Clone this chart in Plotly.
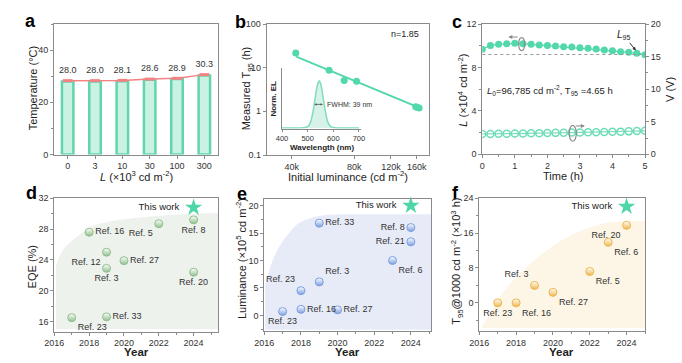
import plotly.graph_objects as go

W, H = 682, 363
FONT = "Liberation Sans, Arial, sans-serif"

# ---------------- data ----------------
# a
a_cats = ["0", "3", "10", "30", "100", "300"]
a_temp = [28.0, 28.0, 28.1, 28.6, 28.9, 30.3]
# b
b_lum = [41800, 60500, 71500, 82000, 158000, 161000, 164000]
b_t95 = [21.7, 8.7, 5.1, 4.9, 1.28, 1.23, 1.2]
b_fit_lum = [42000, 164000]
b_fit_t95 = [17.9, 1.22]
# b inset spectrum
el_wl = [400, 450, 480, 500, 510, 520, 530, 535, 540, 545, 550, 555, 560, 570, 580, 590, 600, 620, 650, 700]
el_int = [0, 0, 0.005, 0.03, 0.11, 0.32, 0.66, 0.83, 0.95, 1.0, 0.95, 0.83, 0.66, 0.32, 0.11, 0.03, 0.01, 0, 0, 0]
# c
c_time = [0, 0.25, 0.5, 0.75, 1, 1.25, 1.5, 1.75, 2, 2.25, 2.5, 2.75, 3, 3.25, 3.5, 3.75, 4, 4.25, 4.5, 4.75, 5]
c_lum = [9.68, 10.03, 10.13, 10.19, 10.22, 10.19, 10.13, 10.06, 10.03, 9.97, 9.91, 9.88, 9.82, 9.76,
         9.70, 9.60, 9.54, 9.45, 9.39, 9.30, 9.17]
c_volt = [3.12, 3.13, 3.15, 3.17, 3.19, 3.21, 3.23, 3.25, 3.27, 3.29, 3.31, 3.33, 3.35, 3.37, 3.39,
          3.42, 3.45, 3.48, 3.52, 3.56, 3.60]
c_l95 = 9.19
# d
d_year = [2017, 2018, 2019, 2019, 2019, 2020, 2022, 2024, 2024]
d_eqe = [16.5, 27.6, 25.0, 22.9, 16.6, 23.9, 28.7, 29.2, 22.4]
d_ref = ["Ref. 23", "Ref. 16", "Ref. 12", "Ref. 3", "Ref. 33", "Ref. 27", "Ref. 5", "Ref. 8", "Ref. 20"]
d_pos = ["bottom right", "middle right", "bottom left", "bottom center", "middle right", "middle right",
         "bottom left", "bottom center", "bottom center"]
d_this = (2024, 30.8)
d_shade_x = [2016.1, 2016.5, 2017.3, 2018.2, 2019.2, 2020.5, 2022.4, 2025.4]
d_shade_y = [23.3, 25.3, 27.0, 28.4, 29.0, 29.4, 29.8, 30.1]
# e
e_year = [2017, 2018, 2018, 2019, 2019, 2020, 2023, 2024, 2024]
e_lum = [0.7, 4.5, 1.1, 6.1, 16.8, 1.0, 10.0, 13.4, 16.0]
e_ref = ["Ref. 23", "Ref. 23", "Ref. 16", "Ref. 3", "Ref. 33", "Ref. 27", "Ref. 6", "Ref. 21", "Ref. 8"]
e_pos = ["bottom center", "top left", "middle right", "top right", "middle right", "middle right",
         "bottom right", "middle left", "middle left"]
e_this = (2024, 20.0)
e_shade_x = [2016.05, 2016.4, 2016.8, 2017.3, 2017.8, 2018.5, 2019.2, 2020.5, 2025.1]
e_shade_y = [5.5, 9.5, 12.4, 14.8, 16.6, 17.7, 18.2, 18.4, 18.4]
# f
f_year = [2017, 2018, 2019, 2020, 2022, 2023, 2024]
f_t95 = [0.0, 0.0, 4.0, 2.4, 7.2, 13.9, 17.8]
f_ref = ["Ref. 23", "Ref. 16", "Ref. 3", "Ref. 27", "Ref. 5", "Ref. 6", "Ref. 20"]
f_pos = ["bottom center", "bottom right", "top left", "bottom right", "bottom right", "bottom right", "bottom left"]
f_this = (2024, 22.1)
f_shade_x = [2016.15, 2016.7, 2017.3, 2018.2, 2019.1, 2020.0, 2021.0, 2022.0, 2022.8, 2023.8, 2025.0]
f_shade_y = [-5.5, -1.5, 2.5, 6.7, 10.2, 13.1, 15.6, 17.3, 18.3, 18.7, 18.8]

# ---------------- helpers ----------------
def dx(p0, p1):
    return [p0 / W, p1 / W]

def dy(top, bottom):
    return [1 - bottom / H, 1 - top / H]

def px(x):
    return x / W

def py(y):
    return 1 - y / H

AX = dict(showline=True, linecolor="#8a8a8a", linewidth=1, mirror=True, ticks="outside",
          ticklen=3, tickcolor="#8a8a8a", showgrid=False, zeroline=False, automargin=False,
          tickfont=dict(size=9, color="#333", family=FONT))
MINOR = lambda d: dict(ticks="outside", ticklen=2, dtick=d, tickcolor="#8a8a8a")

TEAL = "#52d8aa"
STAR = "#4fd6a6"

fig = go.Figure()

# ---------- panel a ----------
fig.add_trace(go.Bar(x=a_cats, y=a_temp, width=0.42, marker=dict(color="#c9f2e3",
                     line=dict(color="#62d5ad", width=2.5)), xaxis="x", yaxis="y", showlegend=False))
fig.add_trace(go.Scatter(x=a_cats, y=[v + 0.3 for v in a_temp], mode="lines+markers+text",
                         text=[f"{v:.1f}" for v in a_temp], textposition="top center",
                         textfont=dict(size=9, color="#333", family=FONT),
                         line=dict(color="#f48282", width=1.5),
                         marker=dict(symbol="line-ew-open", size=7, line=dict(color="#f25a5a", width=3)),
                         xaxis="x", yaxis="y", showlegend=False, cliponaxis=False))

# ---------- panel b ----------
fig.add_trace(go.Scatter(x=b_fit_lum, y=b_fit_t95, mode="lines", line=dict(color=TEAL, width=2),
                         xaxis="x2", yaxis="y2", showlegend=False))
fig.add_trace(go.Scatter(x=b_lum, y=b_t95, mode="markers", marker=dict(color=TEAL, size=7),
                         xaxis="x2", yaxis="y2", showlegend=False))
# inset
fig.add_trace(go.Scatter(x=el_wl, y=el_int, mode="lines", line=dict(color="#7fdcbc", width=1.5, shape="spline"),
                         fill="tozeroy", fillcolor="rgba(140,222,192,0.35)",
                         xaxis="x3", yaxis="y3", showlegend=False))

# ---------- panel c ----------
fig.add_trace(go.Scatter(x=c_time, y=c_lum, mode="lines+markers", line=dict(color=TEAL, width=1.2),
                         marker=dict(color=TEAL, size=7), xaxis="x4", yaxis="y4", showlegend=False))
fig.add_trace(go.Scatter(x=c_time, y=c_volt, mode="lines+markers", line=dict(color="#7fe0c0", width=1.2),
                         marker=dict(symbol="circle-open", color="#6fdcb8", size=7, line=dict(width=1.5)),
                         xaxis="x4", yaxis="y5", showlegend=False))

# ---------- panels d, e, f ----------
def ref_panel(xa, ya, shade_x, shade_y, base, shade_col, years, vals, refs, pos, this, mcol):
    fig.add_trace(go.Scatter(x=[shade_x[0], shade_x[-1]], y=[base, base], mode="lines",
                             line=dict(width=0, color=shade_col), xaxis=xa, yaxis=ya, showlegend=False,
                             hoverinfo="skip"))
    fig.add_trace(go.Scatter(x=shade_x, y=shade_y, mode="lines", line=dict(width=0, color=shade_col, shape="spline"),
                             fill="tonexty", fillcolor=shade_col, xaxis=xa, yaxis=ya, showlegend=False,
                             hoverinfo="skip"))
    fig.add_trace(go.Scatter(x=years, y=vals, mode="markers+text", text=refs, textposition=pos,
                             textfont=dict(size=9, color="#333", family=FONT),
                             marker=dict(size=8, color="white", gradient=dict(type="vertical", color=mcol),
                                         line=dict(color=mcol, width=1)),
                             xaxis=xa, yaxis=ya, showlegend=False, cliponaxis=False))
    fig.add_trace(go.Scatter(x=[this[0]], y=[this[1]], mode="markers+text", text=["This work  "],
                             textposition="middle left", textfont=dict(size=9.5, color="#222", family=FONT),
                             marker=dict(symbol="star", size=13, color=STAR),
                             xaxis=xa, yaxis=ya, showlegend=False, cliponaxis=False))

ref_panel("x5", "y6", d_shade_x, d_shade_y, 15.0, "#eef2ed", d_year, d_eqe, d_ref, d_pos, d_this, "#8fbf8c")
ref_panel("x6", "y7", e_shade_x, e_shade_y, -2.6, "#e6ebf7", e_year, e_lum, e_ref, e_pos, e_this, "#7c9fe0")
ref_panel("x7", "y8", f_shade_x, f_shade_y, -5.8, "#fdf6e6", f_year, f_t95, f_ref, f_pos, f_this, "#efb64e")

# ---------------- layout ----------------
lay = dict(
    width=W, height=H, margin=dict(l=0, r=0, t=0, b=0, autoexpand=False),
    paper_bgcolor="white", plot_bgcolor="rgba(0,0,0,0)",
    font=dict(family=FONT, color="#333"),
    xaxis=dict(AX, domain=dx(54, 218), anchor="y", range=[-0.5, 5.5], type="category"),
    yaxis=dict(AX, domain=dy(24, 154.5), anchor="x", range=[0, 50], tickvals=[0, 20, 40],
               minor=MINOR(10)),
    xaxis2=dict(AX, domain=dx(266.7, 429), anchor="y2", type="log", range=[4.4814, 5.2625],
                tickvals=[40000, 80000, 120000, 160000], ticktext=["40k", "80k", "120k", "160k"]),
    yaxis2=dict(AX, domain=dy(24, 155), anchor="x2", type="log", range=[-1, 2],
                tickvals=[0.1, 1, 10, 100], ticktext=["0.1", "1", "10", "100"]),
    xaxis3=dict(showline=True, linecolor="#8a8a8a", mirror=False, ticks="outside", ticklen=2,
                tickcolor="#8a8a8a", showgrid=False, zeroline=False, domain=dx(282, 361), anchor="y3",
                range=[400, 708], tickvals=[400, 500, 600, 700], automargin=False,
                tickfont=dict(size=7.5, color="#333", family=FONT)),
    yaxis3=dict(showline=True, linecolor="#8a8a8a", mirror=False, ticks="", showticklabels=False,
                showgrid=False, zeroline=False, domain=dy(68, 128.5), anchor="x3", range=[-0.01, 1.27],
                automargin=False),
    xaxis4=dict(AX, domain=dx(482.3, 645), anchor="y4", range=[0, 5], dtick=1, minor=MINOR(0.5)),
    yaxis4=dict(AX, domain=dy(24, 154.3), anchor="x4", range=[0, 12], dtick=4, mirror=False, minor=MINOR(2)),
    yaxis5=dict(AX, anchor="x4", overlaying="y4", side="right", range=[0, 20], dtick=5, mirror=False,
                minor=MINOR(2.5)),
    xaxis5=dict(AX, domain=dx(54.3, 218), anchor="y6", range=[2016, 2025.4], tick0=2016, dtick=2,
                minor=MINOR(1)),
    yaxis6=dict(AX, domain=dy(198.3, 331.5), anchor="x5", range=[14.7, 32], tick0=16, dtick=4, minor=MINOR(2)),
    xaxis6=dict(AX, domain=dx(264.3, 431), anchor="y7", range=[2016, 2025.1], tick0=2016, dtick=2,
                minor=MINOR(1)),
    yaxis7=dict(AX, domain=dy(199, 331), anchor="x6", range=[-2.85, 21.2], tick0=0, dtick=5, minor=MINOR(2.5)),
    xaxis7=dict(AX, domain=dx(479.3, 645), anchor="y8", range=[2016, 2025], tick0=2016, dtick=2,
                minor=MINOR(1)),
    yaxis8=dict(AX, domain=dy(198.3, 330.7), anchor="x7", range=[-6.4, 24], tick0=0, dtick=8, minor=MINOR(4)),
)
fig.update_layout(**lay)

ann = []
def t(text, x, y, size=11, angle=0, bold=False, color="#222"):
    ann.append(dict(text=(f"<b>{text}</b>" if bold else text), x=px(x), y=py(y), xref="paper", yref="paper",
                    showarrow=False, textangle=angle, font=dict(size=size, family=FONT, color=color),
                    xanchor="center", yanchor="middle"))

# panel letters
for L, x, y in [("a", 30, 21), ("b", 240, 22), ("c", 457, 22), ("d", 31, 193), ("e", 242, 194), ("f", 455, 193)]:
    t(L, x, y, size=18, bold=True, color="#000")

# axis titles
t("<i>L</i> (×10<sup>3</sup> cd m<sup>-2</sup>)", 136.7, 175.5, size=11)
t("Temperature (°C)", 33.3, 88, size=11, angle=-90)
t("Initial luminance (cd m<sup>-2</sup>)", 348.3, 175.5, size=11)
t("Measured T<sub>95</sub> (h)", 247.3, 88, size=11, angle=-90)
t("Time (h)", 563.3, 175.5, size=11)
t("<i>L</i> (×10<sup>4</sup> cd m<sup>-2</sup>)", 462.7, 90, size=11, angle=-90)
t("V (V)", 670, 90, size=11, angle=-90)
t("<b>Year</b>", 136.7, 351.5, size=11.5)
t("EQE (%)", 31.7, 266.7, size=11, angle=-90)
t("<b>Year</b>", 347.7, 351.5, size=11.5)
t("Luminance (×10<sup>5</sup> cd m<sup>-2</sup>)", 241.7, 258.3, size=11, angle=-90)
t("<b>Year</b>", 561.7, 351.5, size=11.5)
t("T<sub>95</sub>@1000 cd m<sup>-2</sup> (×10<sup>3</sup> h)", 456.7, 261, size=11, angle=-90)
# inset titles
t("Norm. EL", 273.3, 98.3, size=8, angle=-90, bold=True)
t("Wavelength (nm)", 321.7, 147.5, size=8, bold=True)
t("n=1.85", 405, 34, size=9)

# FWHM arrow in inset
ann.append(dict(x=526, y=0.5, ax=565, ay=0.5, xref="x3", yref="y3", axref="x3", ayref="y3",
                showarrow=True, arrowhead=2, arrowsize=0.6, arrowwidth=0.8, arrowcolor="#555",
                arrowside="end+start", text=""))
ann.append(dict(x=567, y=0.5, xref="x3", yref="y3", text="FWHM: 39 nm", showarrow=False, xanchor="left",
                font=dict(size=7, family=FONT, color="#333")))

# panel c annotations
ann.append(dict(x=0.8, y=10.8, ax=1.13, ay=10.8, xref="x4", yref="y4", axref="x4", ayref="y4",
                showarrow=True, arrowhead=2, arrowsize=0.8, arrowwidth=1, arrowcolor="#888", text=""))
ann.append(dict(x=3.15, y=4.35, ax=2.83, ay=4.35, xref="x4", yref="y5", axref="x4", ayref="y5",
                showarrow=True, arrowhead=2, arrowsize=0.8, arrowwidth=1, arrowcolor="#888", text=""))
ann.append(dict(x=4.72, y=9.55, ax=4.35, ay=10.95, xref="x4", yref="y4", axref="x4", ayref="y4",
                showarrow=True, arrowhead=2, arrowsize=0.7, arrowwidth=1, arrowcolor="#333",
                text="<i>L</i><sub>95</sub>", font=dict(size=10, family=FONT, color="#222")))
ann.append(dict(x=2.07, y=5.92, xref="x4", yref="y4", showarrow=False,
                text="<i>L</i><sub>0</sub>=96,785 cd m<sup>-2</sup>, T<sub>95</sub> =4.65 h",
                font=dict(size=9.5, family=FONT, color="#222")))

fig.update_layout(annotations=ann)

shapes = [
    dict(type="line", xref="x4 domain", yref="y4", x0=0, x1=1, y0=c_l95, y1=c_l95,
         line=dict(color="#999", width=1, dash="dot")),
    dict(type="circle", xref="x4", yref="y4", x0=1.12, x1=1.30, y0=9.55, y1=10.75,
         line=dict(color="#8a8a8a", width=1.2)),
    dict(type="circle", xref="x4", yref="y5", x0=2.67, x1=2.89, y0=2.0, y1=4.45,
         line=dict(color="#8a8a8a", width=1.2)),
]
fig.update_layout(shapes=shapes)

fig.write_html("out.html", config={"displayModeBar": False},
               post_script="document.body.style.margin='0';document.body.style.padding='0';")
